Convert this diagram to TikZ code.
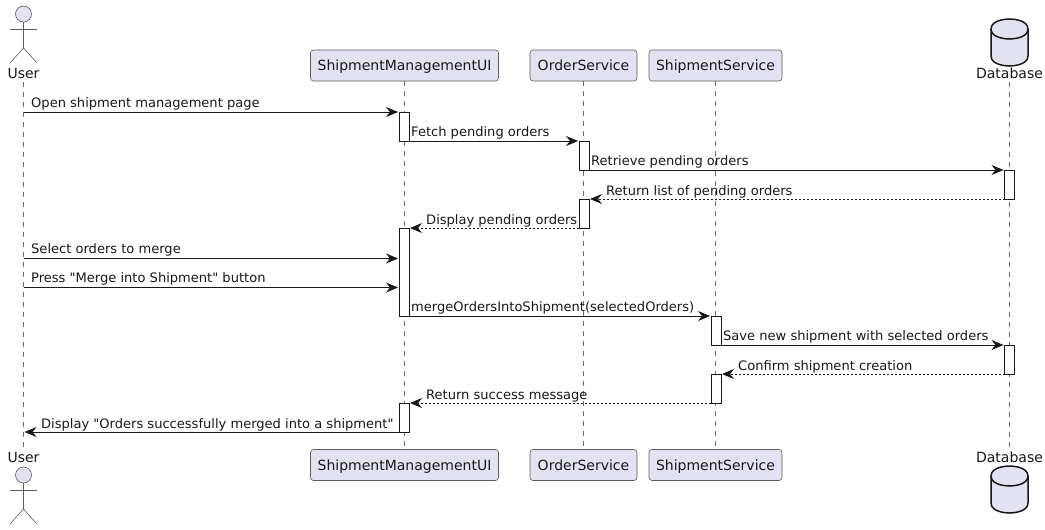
\documentclass[tikz,border=0pt]{standalone}
\usepackage{fontspec}
\setmainfont{DejaVu Sans}[Ligatures=TeXOff]
\usepackage{xcolor}
\usetikzlibrary{arrows.meta}
\definecolor{SeqFill}{RGB}{226,226,240}
\definecolor{SeqDark}{RGB}{24,24,24}
\definecolor{SeqGray}{RGB}{110,110,110}
\tikzset{
  party/.style={
    rectangle, rounded corners=3pt, inner sep=0pt,
    minimum height=31pt, text height=13pt, text depth=3pt,
    draw=SeqDark!70, line width=0.6pt, fill=SeqFill,
    font=\fontsize{14}{16}\selectfont, text=SeqDark
  },
  partylbl/.style={
    inner sep=0pt, minimum height=16pt, text height=13pt, text depth=3pt,
    font=\fontsize{14}{16}\selectfont, text=SeqDark
  },
  head/.style={
    circle, inner sep=0pt, minimum size=16pt,
    draw=SeqDark!70, line width=0.6pt, fill=SeqFill
  },
  limb/.style={draw=SeqDark!70, line width=0.6pt},
  dbase/.style={draw=SeqDark, line width=1.5pt, fill=SeqFill},
  dbrim/.style={draw=SeqDark, line width=1.5pt},
  lifeline/.style={draw=SeqGray, line width=0.5pt, dash pattern=on 5pt off 5pt},
  bar/.style={
    rectangle, inner sep=0pt, outer sep=0pt, minimum width=10pt,
    draw=SeqDark, line width=1pt, fill=white
  },
  msg/.style={-{Stealth[length=12pt, width=10pt, inset=4pt]}, draw=SeqDark, line width=1pt, shorten >=1pt},
  ret/.style={msg, dash pattern=on 2pt off 2pt},
  lbl/.style={anchor=base west, inner sep=0pt, font=\fontsize{13.05}{15}\selectfont, text=SeqDark}
}
\begin{document}
\begin{tikzpicture}[x=1pt, y=-1pt]
  \useasboundingbox (0,0) rectangle (1045,530);

  % Participants, top row
  \node[partylbl] (userT) at (23.5, 73.5) {User};
  \node[party, minimum width=188pt] (uiT) at (404.5, 65.5) {ShipmentManagementUI};
  \node[party, minimum width=107pt] (ordT) at (583.5, 65.5) {OrderService};
  \node[party, minimum width=133pt] (shipT) at (715.5, 65.5) {ShipmentService};
  \node[partylbl] (dbT) at (1009.5, 73.5) {Database};

  % Participants, bottom row
  \node[partylbl] (userB) at (23.5, 457.5) {User};
  \node[party, minimum width=188pt] (uiB) at (404.5, 465) {ShipmentManagementUI};
  \node[party, minimum width=107pt] (ordB) at (583.5, 465) {OrderService};
  \node[party, minimum width=133pt] (shipB) at (715.5, 465) {ShipmentService};
  \node[partylbl] (dbB) at (1009.5, 457.5) {Database};

  % Actors
  \foreach \n/\y in {a/14, b/475} {
    \node[head] (head\n) at (23.5, \y) {};
    \coordinate (hip\n) at (23.5, \y+34);
    \coordinate (armL\n) at (10, \y+15);
    \coordinate (armR\n) at (37, \y+15);
    \coordinate (footL\n) at (10, \y+49);
    \coordinate (footR\n) at (37, \y+49);
    \draw[limb] (head\n.south) -- (hip\n);
    \draw[limb] (armL\n) -- (armR\n);
    \draw[limb] (footL\n) -- (hip\n) -- (footR\n);
  }

  % Databases
  \foreach \y in {19, 466} {
    \draw[dbase] (991, \y+10) .. controls (991, \y) and (1009.5, \y) .. (1009.5, \y)
      .. controls (1009.5, \y) and (1028, \y) .. (1028, \y+10)
      -- (1028, \y+37) .. controls (1028, \y+47) and (1009.5, \y+47) .. (1009.5, \y+47)
      .. controls (1009.5, \y+47) and (991, \y+47) .. (991, \y+37) -- cycle;
    \draw[dbrim] (991, \y+10) .. controls (991, \y+20) and (1009.5, \y+20) .. (1009.5, \y+20)
      .. controls (1009.5, \y+20) and (1028, \y+20) .. (1028, \y+10);
  }

  % Lifelines
  \draw[lifeline] (userT) -- (userB);
  \draw[lifeline] (uiT) -- (uiB);
  \draw[lifeline] (ordT) -- (ordB);
  \draw[lifeline] (shipT) -- (shipB);
  \draw[lifeline] (dbT) -- (dbB);

  % Activation bars
  \node[bar, minimum height=29pt] (ui1) at (404, 126.5) {};
  \node[bar, minimum height=29pt] (ord1) at (584, 155.5) {};
  \node[bar, minimum height=29pt] (db1) at (1009.5, 184.5) {};
  \node[bar, minimum height=29pt] (ord2) at (584, 213.5) {};
  \node[bar, minimum height=88pt] (ui2) at (404, 272) {};
  \node[bar, minimum height=29pt] (ship1) at (716, 330.5) {};
  \node[bar, minimum height=29pt] (db2) at (1009.5, 359.5) {};
  \node[bar, minimum height=29pt] (ship2) at (716, 388.5) {};
  \node[bar, minimum height=29pt] (ui3) at (404, 417.5) {};

  % Free ends on the lifelines
  \coordinate (u1) at (23.5, 112);
  \coordinate (u6) at (23.5, 258.5);
  \coordinate (u7) at (23.5, 287.5);
  \coordinate (u12) at (23.5, 432);
  \coordinate (in6) at (399, 258.5);
  \coordinate (in7) at (399, 287.5);

  % Arrows
  \draw[msg] (u1) -- (ui1.north west);
  \draw[msg] (ui1.south east) -- (ord1.north west);
  \draw[msg] (ord1.south east) -- (db1.north west);
  \draw[ret] (db1.south west) -- (ord2.north east);
  \draw[ret] (ord2.south west) -- (ui2.north east);
  \draw[msg] (u6) -- (in6);
  \draw[msg] (u7) -- (in7);
  \draw[msg] (ui2.south east) -- (ship1.north west);
  \draw[msg] (ship1.south east) -- (db2.north west);
  \draw[ret] (db2.south west) -- (ship2.north east);
  \draw[ret] (ship2.south west) -- (ui3.north east);
  \draw[msg] (ui3.south west) -- (u12);

  % Labels
  \node[lbl] (t1) at (31, 107) {Open shipment management page};
  \node[lbl] (t2) at (411, 136) {Fetch pending orders};
  \node[lbl] (t3) at (591, 165) {Retrieve pending orders};
  \node[lbl] (t4) at (606, 195) {Return list of pending orders};
  \node[lbl] (t5) at (426, 224) {Display pending orders};
  \node[lbl] (t6) at (31, 253) {Select orders to merge};
  \node[lbl] (t7) at (31, 282) {Press "Merge into Shipment" button};
  \node[lbl] (t8) at (411, 311) {mergeOrdersIntoShipment(selectedOrders)};
  \node[lbl] (t9) at (723, 340) {Save new shipment with selected orders};
  \node[lbl] (t10) at (738, 370) {Confirm shipment creation};
  \node[lbl] (t11) at (426, 399) {Return success message};
  \node[lbl] (t12) at (41, 428) {Display "Orders successfully merged into a shipment"};
\end{tikzpicture}
\end{document}
